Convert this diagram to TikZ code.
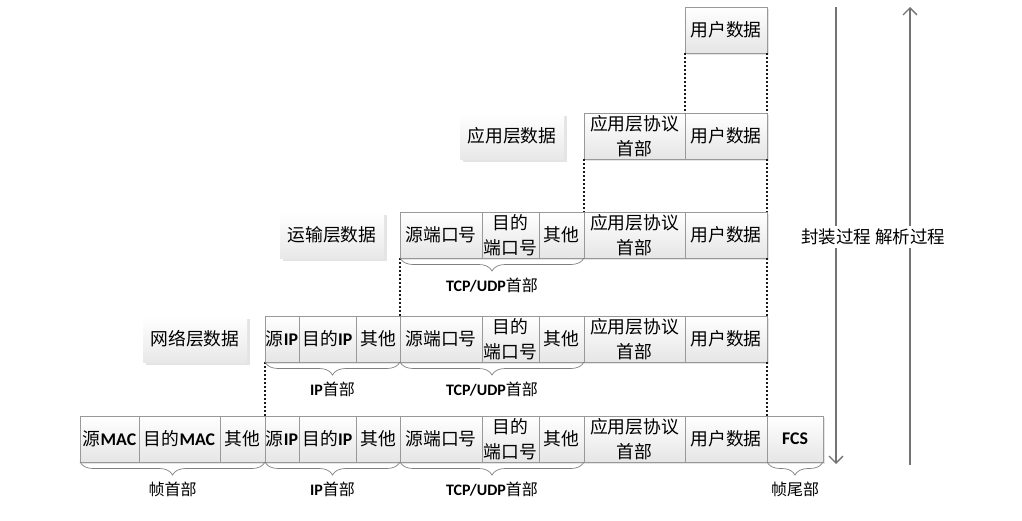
\documentclass[tikz,border=0pt]{standalone}
\usepackage{fontspec}
\setmainfont{Noto Sans CJK SC}
\newfontfamily\latf{Carlito}
\newcommand\B[1]{{\latf\bfseries #1}}
\usetikzlibrary{shadows,decorations.pathreplacing,arrows.meta}
\begin{document}
\begin{tikzpicture}[x=1pt,y=-1pt,
  fld/.style={draw=black!40, line width=0.6pt, top color=white, bottom color=black!10,
    inner sep=0pt, outer sep=0pt, minimum height=46pt, align=center,
    font=\fontsize{17.8}{25}\selectfont,
    drop shadow={shadow xshift=2pt, shadow yshift=-2pt, opacity=0.35, fill=black!30}},
  lbl/.style={top color=white, bottom color=black!9, inner sep=0pt, minimum width=104pt,
    minimum height=46pt, font=\fontsize{17.8}{24}\selectfont,
    drop shadow={shadow xshift=2.5pt, shadow yshift=-3pt, opacity=0.35, fill=black!30}},
  dotl/.style={line width=1.5pt, dash pattern=on 2pt off 2pt, black!90},
  brc/.style={decorate, decoration={brace, mirror, amplitude=13pt}, draw=black!50, line width=0.7pt},
  blab/.style={font=\fontsize{16}{18}\selectfont, inner sep=0pt, below=20pt, midway},
  proc/.style={line width=1.3pt, black!55, -{Straight Barb[length=7pt,width=14pt]}},
  plab/.style={fill=white, inner sep=3pt, font=\fontsize{17.5}{20}\selectfont}
]
\useasboundingbox (0,0) rectangle (1022,520);

% row 0
\node[fld, minimum width=82pt] (r0u) at (726,30) {用户数据};

% row 1
\node[lbl] (l1) at (512,136) {应用层数据};
\node[fld, minimum width=101pt] (r1a) at (634.5,136) {应用层协议\\首部};
\node[fld, minimum width=82pt] (r1u) at (726,136) {用户数据};

% row 2
\node[lbl] (l2) at (332,235) {运输层数据};
\node[fld, minimum width=82pt] (r2s) at (441,235) {源端口号};
\node[fld, minimum width=57pt] (r2d) at (510.5,235) {目的\\端口号};
\node[fld, minimum width=45pt] (r2o) at (561.5,235) {其他};
\node[fld, minimum width=101pt] (r2a) at (634.5,235) {应用层协议\\首部};
\node[fld, minimum width=82pt] (r2u) at (726,235) {用户数据};

% row 3
\node[lbl] (l3) at (195,339) {网络层数据};
\node[fld, minimum width=34pt] (r3si) at (282,339) {源\B{IP}};
\node[fld, minimum width=57pt] (r3di) at (327.5,339) {目的\B{IP}};
\node[fld, minimum width=44pt] (r3oi) at (378,339) {其他};
\node[fld, minimum width=82pt] (r3s) at (441,339) {源端口号};
\node[fld, minimum width=57pt] (r3d) at (510.5,339) {目的\\端口号};
\node[fld, minimum width=45pt] (r3o) at (561.5,339) {其他};
\node[fld, minimum width=101pt] (r3a) at (634.5,339) {应用层协议\\首部};
\node[fld, minimum width=82pt] (r3u) at (726,339) {用户数据};

% row 4
\node[fld, minimum width=59pt] (r4sm) at (109.5,439) {源\B{MAC}};
\node[fld, minimum width=81pt] (r4dm) at (179.5,439) {目的\B{MAC}};
\node[fld, minimum width=45pt] (r4om) at (242.5,439) {其他};
\node[fld, minimum width=34pt] (r4si) at (282,439) {源\B{IP}};
\node[fld, minimum width=57pt] (r4di) at (327.5,439) {目的\B{IP}};
\node[fld, minimum width=44pt] (r4oi) at (378,439) {其他};
\node[fld, minimum width=82pt] (r4s) at (441,439) {源端口号};
\node[fld, minimum width=57pt] (r4d) at (510.5,439) {目的\\端口号};
\node[fld, minimum width=45pt] (r4o) at (561.5,439) {其他};
\node[fld, minimum width=101pt] (r4a) at (634.5,439) {应用层协议\\首部};
\node[fld, minimum width=82pt] (r4u) at (726,439) {用户数据};
\node[fld, minimum width=56pt] (r4f) at (795,439) {\B{FCS}};

% dotted guides
\draw[dotl] (r0u.south west) -- (r1u.north west);
\draw[dotl] (r0u.south east) -- (r1u.north east);
\draw[dotl] (r1a.south west) -- (r2a.north west);
\draw[dotl] (r1u.south east) -- (r2u.north east);
\draw[dotl] (r2s.south west) -- (r3s.north west);
\draw[dotl] (r2u.south east) -- (r3u.north east);
\draw[dotl] (r3si.south west) -- (r4si.north west);
\draw[dotl] (r3u.south east) -- (r4u.north east);

% braces
\draw[brc] (r2s.south west) -- (r2o.south east) node[blab] (b2t) {\B{TCP/UDP}首部};
\draw[brc] (r3si.south west) -- (r3oi.south east) node[blab] (b3i) {\B{IP}首部};
\draw[brc] (r3s.south west) -- (r3o.south east) node[blab] (b3t) {\B{TCP/UDP}首部};
\draw[brc] (r4sm.south west) -- (r4om.south east) node[blab] (b4m) {帧首部};
\draw[brc] (r4si.south west) -- (r4oi.south east) node[blab] (b4i) {\B{IP}首部};
\draw[brc] (r4s.south west) -- (r4o.south east) node[blab] (b4t) {\B{TCP/UDP}首部};
\draw[brc] (r4f.south west) -- (r4f.south east) node[blab] (b4f) {帧尾部};

% process arrows
\coordinate (e1) at (836,7);
\coordinate (e2) at (836,464);
\coordinate (d1) at (910,465);
\coordinate (d2) at (910,7);
\draw[proc] (e1) -- (e2);
\draw[proc] (d1) -- (d2);
\node[plab] (pe) at (836,237) {封装过程};
\node[plab] (pd) at (910,237) {解析过程};
\end{tikzpicture}
\end{document}
